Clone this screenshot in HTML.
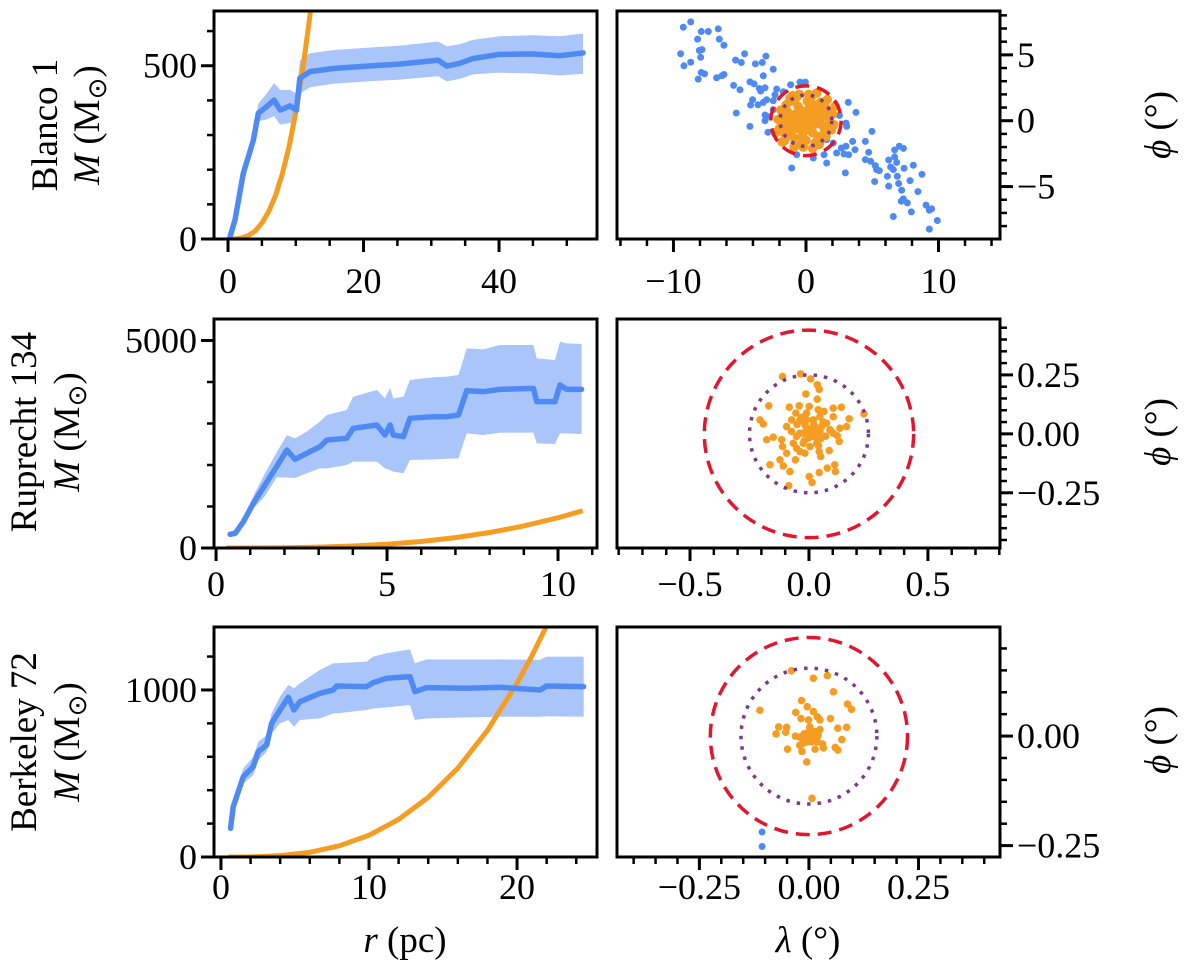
<!DOCTYPE html>
<html><head><meta charset="utf-8"><style>
html,body{margin:0;padding:0;background:#fff;}
svg{display:block;font-family:"Liberation Serif",serif;}
</style></head><body>
<svg id="fig" width="1200" height="980" viewBox="0 0 1200 980" xmlns="http://www.w3.org/2000/svg">
<defs>
<clipPath id="c1"><rect x="214" y="11" width="383" height="228"/></clipPath>
<clipPath id="c2"><rect x="617" y="11" width="383" height="228"/></clipPath>
<clipPath id="c3"><rect x="214" y="319" width="383" height="229"/></clipPath>
<clipPath id="c4"><rect x="617" y="319" width="383" height="229"/></clipPath>
<clipPath id="c5"><rect x="214" y="627" width="383" height="230"/></clipPath>
<clipPath id="c6"><rect x="617" y="627" width="383" height="230"/></clipPath>
</defs>
<g id="root"></g>
<g font-size="37">
<text transform="translate(57,125) rotate(-90)" text-anchor="middle">Blanco 1</text>
<text transform="translate(99,125) rotate(-90)" text-anchor="middle"><tspan font-style="italic">M</tspan> (M<tspan font-size="26" dy="7">⊙</tspan><tspan dy="-7">)</tspan></text>
<text transform="translate(36,432) rotate(-90)" text-anchor="middle">Ruprecht 134</text>
<text transform="translate(79,432) rotate(-90)" text-anchor="middle"><tspan font-style="italic">M</tspan> (M<tspan font-size="26" dy="7">⊙</tspan><tspan dy="-7">)</tspan></text>
<text transform="translate(36,742) rotate(-90)" text-anchor="middle">Berkeley 72</text>
<text transform="translate(79,742) rotate(-90)" text-anchor="middle"><tspan font-style="italic">M</tspan> (M<tspan font-size="26" dy="7">⊙</tspan><tspan dy="-7">)</tspan></text>
<text transform="translate(1170,125) rotate(-90)" text-anchor="middle"><tspan font-style="italic">ϕ</tspan> (°)</text>
<text transform="translate(1170,432) rotate(-90)" text-anchor="middle"><tspan font-style="italic">ϕ</tspan> (°)</text>
<text transform="translate(1170,740) rotate(-90)" text-anchor="middle"><tspan font-style="italic">ϕ</tspan> (°)</text>
<text x="405" y="952" text-anchor="middle"><tspan font-style="italic">r</tspan> (pc)</text>
<text x="808" y="952" text-anchor="middle"><tspan font-style="italic">λ</tspan> (°)</text>
</g>
</svg>
<script>
// ---------- data ----------
const b1R=[0.2,1.03,2.26,3.74,4.47,5.7,6.8,7.7,9.15,10.1,10.6,12.1,15.5,20.5,25.4,31,32.3,34.2,36.2,40.1,45,49,52.4];
const b1M=[0,55,190,285,363,382,401,372,384,372,464,483,492,499,505,516,499,507,521,533,534,529,537];
const b1Up=[5,65,205,300,390,420,450,430,430,420,515,536,545,552,558,570,556,562,575,585,588,585,593];
const b1Lo=[0,45,175,270,340,345,355,330,335,335,420,438,448,455,460,470,455,462,475,480,478,472,477];
const b1ModelR=[0,1,2,3,4,5,6,7,8,9,10,11,12,12.5,13];
const b1ModelM=[0,0.4,2.9,9.9,23,46,79,125,187,266,365,486,631,713,802];

const r1R=[0.41,0.56,0.8,1.09,1.43,1.77,2.07,2.31,2.65,3.04,3.24,3.82,4.01,4.7,4.94,5.09,5.18,5.48,5.67,6.35,6.75,7.09,7.33,7.82,8.3,9.28,9.38,9.91,10.06,10.25,10.69];
const r1M=[330,354,634,1077,1518,1960,2361,2137,2281,2441,2602,2643,2884,2964,2723,2964,2723,2683,3125,3164,3164,3205,3791,3767,3823,3847,3526,3526,3928,3823,3823];
const r1Up=[360,400,700,1250,1800,2300,2720,2643,2803,3044,3205,3325,3646,3807,3606,3855,3606,3646,4048,4113,4129,4170,4811,4787,4892,4892,4570,4530,4972,4932,4916];
const r1Lo=[300,310,580,950,1250,1700,1700,1687,1800,1920,1920,2000,2080,2080,1920,1880,1840,1800,2120,2136,2152,2160,2763,2723,2779,2779,2522,2506,2763,2763,2747];
const r1ModelR=[0.3,1,2,3,4,5,6,7,8,9,10,10.72];
const r1ModelM=[0,0.7,6,20,47,91,157,250,373,531,729,898];

const k1R=[0.65,0.83,1.51,2.18,2.52,3.09,3.42,3.99,4.55,4.93,5.34,6.69,7.59,7.82,9.84,10.29,11.19,12.77,13.1,13.9,16.6,18.85,21.55,22,24.5];
const k1M=[172,301,481,541,631,671,800,880,956,880,930,980,1000,1024,1020,1044,1070,1080,990,1014,1010,1016,1000,1024,1020];
const k1Up=[195,340,530,600,690,730,860,960,1030,1010,1040,1120,1160,1160,1170,1200,1220,1243,1160,1183,1183,1183,1180,1200,1200];
const k1Lo=[150,270,440,490,580,630,740,800,820,780,820,830,860,860,880,890,896,910,820,830,836,840,840,843,840];
const k1ModelR=[0.5,2,4,6,8,10,12,14,16,18,20,21,22,23];
const k1ModelM=[0,1,8,28,67,130,225,357,532,758,1040,1204,1384,1582];

const s1BlueLam=[-9.26,-8.70,-7.90,-7.37,-6.62,-8.18,-6.54,-6.19,-9.46,-8.05,-7.85,-7.95,-8.70,-9.21,-7.90,-7.65,-8.13,-6.74,-6.34,-6.19,-5.31,-4.88,-4.63,-3.82,-3.30,-3.02,-2.47,-3.22,-5.46,-4.98,-4.23,-3.92,-3.52,-3.42,-3.09,-4.03,-4.18,-3.62,-3.22,-2.97,-2.47,-2.34,-2.21,-1.71,-1.16,-0.45,-0.05,-5.26,-4.23,-3.09,-2.92,-3.09,-2.87,-1.08,-0.70,0.55,1.56,1.36,2.31,2.67,3.02,2.87,3.22,2.52,3.19,3.77,3.02,3.07,2.97,3.52,3.70,4.48,4.98,4.73,4.48,4.88,5.23,5.33,5.53,5.18,6.24,6.14,6.24,6.39,6.59,6.69,6.69,6.84,7.04,7.35,6.99,6.89,7.22,7.40,6.59,7.35,7.19,7.65,7.85,8.10,7.95,8.45,8.75,9.06,9.31,9.48,9.31,9.91,2.06,1.56,-0.20,0.81,-1.46,-2.47];
const s1BluePhi=[7.10,7.50,6.77,6.77,6.97,6.19,6.19,5.73,5.08,5.33,5.40,4.82,4.44,4.17,3.66,3.56,3.16,3.26,3.41,3.51,4.60,4.42,5.08,4.32,4.42,4.90,3.91,3.41,2.68,2.35,2.95,2.80,2.45,2.25,2.50,1.59,1.19,1.21,1.39,1.59,1.52,1.97,2.40,2.20,2.73,2.93,2.93,0.58,-0.43,0.43,0.33,0,-0.88,-3.59,-2.58,-2.83,-3.21,-2.58,-2.45,-2.07,-1.94,-2.53,-2.58,0.40,1.39,0.63,-0.18,-0.43,-3.96,-1.57,-2.20,-1.57,-0.81,-2.40,-2.95,-3.08,-3.41,-3.71,-3.79,-4.62,-2.98,-4.22,-4.97,-3.51,-3.71,-2.22,-2.75,-3.16,-1.94,-2.10,-4.77,-4.22,-5.28,-3.61,-7.27,-5.93,-6.11,-6.24,-4.55,-3.38,-6.92,-5.38,-4.07,-6.41,-6.79,-6.69,-8.23,-7.58,-1.69,-1.44,-1.94,-1.44,1.34,0.83];
const s1OrLam=[0,0.3,-0.3,0.5,-0.5,0.8,-0.8,0.2,-0.2,1.0,-1.0,0.6,-0.6,1.2,-1.2,1.4,-1.4,0.1,0.0,1.6,-1.6,0.9,-0.9,1.1,-1.1,1.8,-1.8,0.4,-0.4,1.5,-1.5,1.4,-1.5,0.7,-0.7,2.0,-2.0,0.3,-0.4,0.7,-0.7,0.1,0.2,-0.1,1.2,-1.2,0.5,-0.5,0.9,-0.9,1.7,-1.7,1.9,-1.9,0.2,-0.2,1.0,-1.0,1.3,-1.3,0.6,-0.6,0.4,-0.3,1.6,-1.6,1.1,-1.2,2.1,-2.1,-2.3,2.2,-1.8,0.8,-0.5,0.5,-0.9];
const s1OrPhi=[0,0.2,0.1,-0.4,-0.3,0.6,0.5,0.9,-0.9,-0.2,0.1,1.2,1.1,0.9,-0.8,-0.7,0.7,1.5,-1.5,0.3,-0.2,-1.2,-1.3,1.4,1.5,-0.1,0.2,1.8,-1.8,-1.2,-1.1,1.3,1.2,-1.7,1.8,0.5,-0.6,-0.6,0.6,0.1,-0.1,0.5,-0.2,-0.4,0.3,0.4,-0.9,0.9,0.8,-0.6,0.8,-0.9,-0.7,0.8,2.0,-2.0,-1.8,1.9,-0.4,-0.3,0.5,-0.6,1.2,-1.2,1.6,-1.5,-1.5,1.7,-0.3,0.1,-0.9,1.1,-1.6,2.1,2.0,-2.1,-2.0];
const s1RadOuter=2.65, s1RadInner=1.95;

const s2OrLam=[-0.111,-0.035,0.007,0.035,0.043,-0.013,-0.169,-0.206,-0.192,-0.083,-0.041,-0.055,0.001,0.035,0.039,0.102,0.136,0.169,0.158,0.231,0.130,0.119,0.127,0.085,0.049,0.043,-0.057,-0.108,-0.164,-0.080,-0.085,0.013,0.001,0.043,0.077,0.108,0.111,-0.178,-0.150,-0.111,-0.122,-0.094,-0.073,-0.038,-0.010,0.018,0.046,0.074,0.088,-0.038,-0.010,0.018,0.046,0.063,-0.066,-0.024,0.004,0.032,-0.038,-0.094,-0.115,0.102,0.007,-0.017,0.025,-0.003,0.039,-0.052,0.053,-0.024,0.018,-0.010,-0.073,0.102,-0.052,-0.017,0.03,0.05,0.0,0.02,-0.02,0.06,0.04,-0.05,0.07,-0.03];
const s2OrPhi=[0.243,0.254,0.233,0.208,0.189,0.169,0.119,0.059,0.042,0.113,0.119,0.088,0.116,0.147,0.102,0.109,0.113,0.064,0.031,0.085,0.024,-0.008,-0.032,-0.071,-0.096,-0.075,-0.110,-0.136,-0.131,-0.160,-0.220,-0.206,-0.181,-0.164,-0.145,-0.131,-0.160,-0.025,-0.014,-0.054,-0.110,0.031,0.010,0.003,0.017,-0.011,0.010,0.045,0.017,0.059,0.088,0.059,0.073,0.095,-0.040,-0.040,-0.054,-0.040,-0.075,-0.082,-0.025,0.003,0.003,0.038,0.031,-0.018,-0.025,-0.011,0.031,0.003,0.010,0.059,0.059,0.073,-0.061,-0.082,0.0,-0.02,0.02,0.04,-0.03,0.05,-0.05,0.04,-0.01,0.07];
const s2RadOuter=0.44, s2RadInner=0.25;

const s3OrLam=[-0.040,0.010,0.042,0.056,-0.017,-0.004,-0.030,-0.112,0.088,0.097,0.049,-0.018,-0.001,0.010,0.019,0.025,-0.069,-0.051,-0.075,-0.053,0.066,0.086,-0.031,-0.021,-0.005,0.002,0.010,0.025,0.018,-0.013,-0.021,-0.001,0.010,0.075,-0.049,-0.016,0.014,0.031,0.033,0.060,0.066,-0.005,0.007,0.002,-0.009,0.006,0.014,-0.002,-0.011,0.021,-0.014,0.018,-0.005];
const s3OrPhi=[0.149,0.132,0.138,0.101,0.081,0.067,0.054,0.059,0.073,0.061,0.040,0.040,0.037,0.056,0.044,0.037,0.021,0.020,0.005,0.009,0.018,0.020,0,-0.002,0.006,0.014,0.002,0.015,-0.005,-0.013,-0.021,-0.009,-0.002,-0.008,-0.030,-0.035,-0.030,-0.018,-0.027,-0.026,-0.032,-0.059,-0.142,0.021,-0.005,-0.013,0.010,0.002,0.005,0.002,-0.017,-0.013,-0.013];
const s3BlueLam=[-0.107,-0.107];
const s3BluePhi=[-0.219,-0.252];
const s3RadOuter=0.225, s3RadInner=0.155;

// tick labels
const p1XTicks=[0,20,40], p1XLabels=["0","20","40"], p1YTicks=[0,500], p1YLabels=["0","500"];
const p2XTicks=[-10,0,10], p2XLabels=["−10","0","10"], p2YTicks=[-5,0,5], p2YLabels=["−5","0","5"];
const p3XTicks=[0,5,10], p3XLabels=["0","5","10"], p3YTicks=[0,5000], p3YLabels=["0","5000"];
const p4XTicks=[-0.5,0,0.5], p4XLabels=["−0.5","0.0","0.5"], p4YTicks=[-0.25,0,0.25], p4YLabels=["−0.25","0.00","0.25"];
const p5XTicks=[0,10,20], p5XLabels=["0","10","20"], p5YTicks=[0,1000], p5YLabels=["0","1000"];
const p6XTicks=[-0.25,0,0.25], p6XLabels=["−0.25","0.00","0.25"], p6YTicks=[-0.25,0], p6YLabels=["−0.25","0.00"];

// ---------- drawing ----------
const NS="http://www.w3.org/2000/svg";
const root=document.getElementById('root');
const BLUE="#4f8af2", BAND="#a9c5f9", ORANGE="#f59d22", RED="#e0172f", PURPLE="#7d3a8c";
function mk(tag,parent,attrs){const e=document.createElementNS(NS,tag);for(const k in attrs)e.setAttribute(k,attrs[k]);parent.appendChild(e);return e;}
function range(a,b,s){const o=[];for(let v=a;v<=b+1e-9;v+=s)o.push(+v.toFixed(6));return o;}

function makePanel(name,box,xd,yd,side,clip){
  const g=mk('g',root,{});
  
  
  const sx=v=>box.x0+(v-xd[0])/(xd[1]-xd[0])*(box.x1-box.x0);
  const sy=v=>box.y1-(v-yd[0])/(yd[1]-yd[0])*(box.y1-box.y0);
  const plot=mk('g',g,{'clip-path':'url(#'+clip+')'});
  
  
  return {g,plot,sx,sy,box,side,xd,yd};
}
function axes(P,xMaj,xLab,xMin,yMaj,yLab,yMin,labY){
  const {g,sx,sy,box,side}=P;
  const fr=mk('rect',g,{x:box.x0,y:box.y0,width:box.x1-box.x0,height:box.y1-box.y0,fill:'none',stroke:'#000','stroke-width':3});
  
  
  const xa=mk('g',g,{});
  
  
  xMin.forEach(v=>{const x=sx(v);if(x<box.x0-1||x>box.x1+1)return;mk('line',xa,{x1:x,x2:x,y1:box.y1,y2:box.y1+7,stroke:'#000','stroke-width':2.5});});
  xMaj.forEach((v,i)=>{const x=sx(v);mk('line',xa,{x1:x,x2:x,y1:box.y1,y2:box.y1+13,stroke:'#000','stroke-width':3});
    const t=mk('text',xa,{x:x,y:labY,'text-anchor':'middle','font-size':36,'font-family':'Liberation Serif, serif'});t.textContent=xLab[i];
    
    });
  const ya=mk('g',g,{});
  
  
  const ax=side==='left'?box.x0:box.x1, d=side==='left'?-1:1;
  yMin.forEach(v=>{const y=sy(v);if(y<box.y0-1||y>box.y1+1)return;mk('line',ya,{x1:ax,x2:ax+d*7,y1:y,y2:y,stroke:'#000','stroke-width':2.5});});
  yMaj.forEach((v,i)=>{const y=sy(v);mk('line',ya,{x1:ax,x2:ax+d*13,y1:y,y2:y,stroke:'#000','stroke-width':3});
    const t=mk('text',ya,{x:side==='left'?ax-17:ax+17,y:y+12,'text-anchor':side==='left'?'end':'start','font-size':36,'font-family':'Liberation Serif, serif'});t.textContent=yLab[i];
    
    });
}
function massPanel(P,R,M,U,L,MR,MM){
  const {plot,sx,sy}=P;
  let d='M'+R.map((r,i)=>sx(r)+','+sy(U[i])).join(' L');
  for(let i=R.length-1;i>=0;i--)d+=' L'+sx(R[i])+','+sy(L[i]);
  const band=mk('path',plot,{d:d+'Z',fill:BAND,stroke:'none'});
  
  
  const model=mk('path',plot,{d:'M'+MR.map((r,i)=>sx(r)+','+sy(MM[i])).join(' L'),fill:'none',stroke:ORANGE,'stroke-width':5,'stroke-linejoin':'round'});
  
  
  const line=mk('path',plot,{d:'M'+R.map((r,i)=>sx(r)+','+sy(M[i])).join(' L'),fill:'none',stroke:BLUE,'stroke-width':5.5,'stroke-linejoin':'round','stroke-linecap':'round'});
  
  
}
function skyPanel(P,BL,BP,OL,OP,rO,rI,orR){
  const {plot,sx,sy}=P;
  BL.forEach((l,i)=>{const c=mk('circle',plot,{cx:sx(l),cy:sy(BP[i]),r:3.5,fill:BLUE});
    
    });
  OL.forEach((l,i)=>{const c=mk('circle',plot,{cx:sx(l),cy:sy(OP[i]),r:orR,fill:ORANGE});
    
    });
  const pu=mk('ellipse',plot,{cx:sx(0),cy:sy(0),rx:sx(rI)-sx(0),ry:sy(0)-sy(rI),fill:'none',stroke:PURPLE,'stroke-width':3.5,'stroke-dasharray':'3.5 7'});
  
  
  const re=mk('ellipse',plot,{cx:sx(0),cy:sy(0),rx:sx(rO)-sx(0),ry:sy(0)-sy(rO),fill:'none',stroke:RED,'stroke-width':3.5,'stroke-dasharray':'14 8'});
  
  
}

const P1=makePanel('blanco1-mass-panel',{x0:214,x1:597,y0:11,y1:239},[-2.07,54.46],[0,658],'left','c1');
massPanel(P1,b1R,b1M,b1Up,b1Lo,b1ModelR,b1ModelM);
axes(P1,p1XTicks,p1XLabels,range(0,50,5),p1YTicks,p1YLabels,range(0,600,100),293);

const P2=makePanel('blanco1-sky-panel',{x0:617,x1:1000,y0:11,y1:239},[-14.26,14.64],[-8.98,8.33],'right','c2');
skyPanel(P2,s1BlueLam,s1BluePhi,s1OrLam,s1OrPhi,s1RadOuter,s1RadInner,4.8);
axes(P2,p2XTicks,p2XLabels,range(-14,14,2),p2YTicks,p2YLabels,range(-8,8,1),293);

const P3=makePanel('ruprecht134-mass-panel',{x0:214,x1:597,y0:319,y1:548},[-0.06,11.14],[0,5518],'left','c3');
massPanel(P3,r1R,r1M,r1Up,r1Lo,r1ModelR,r1ModelM);
axes(P3,p3XTicks,p3XLabels,range(0,11,1),p3YTicks,p3YLabels,range(0,5000,1000),596);

const P4=makePanel('ruprecht134-sky-panel',{x0:617,x1:1000,y0:319,y1:548},[-0.807,0.803],[-0.484,0.487],'right','c4');
skyPanel(P4,[],[],s2OrLam,s2OrPhi,s2RadOuter,s2RadInner,3.8);
axes(P4,p4XTicks,p4XLabels,range(-0.8,0.8,0.1),p4YTicks,p4YLabels,range(-0.45,0.45,0.05),596);

const P5=makePanel('berkeley72-mass-panel',{x0:214,x1:597,y0:627,y1:857},[-0.47,25.4],[0,1377],'left','c5');
massPanel(P5,k1R,k1M,k1Up,k1Lo,k1ModelR,k1ModelM);
axes(P5,p5XTicks,p5XLabels,range(0,24,2),p5YTicks,p5YLabels,range(0,1200,200),899);

const P6=makePanel('berkeley72-sky-panel',{x0:617,x1:1000,y0:627,y1:857},[-0.438,0.436],[-0.276,0.249],'right','c6');
skyPanel(P6,s3BlueLam,s3BluePhi,s3OrLam,s3OrPhi,s3RadOuter,s3RadInner,3.8);
axes(P6,p6XTicks,p6XLabels,range(-0.4,0.4,0.05),p6YTicks,p6YLabels,range(-0.25,0.2,0.05),899);
</script>
</body></html>
